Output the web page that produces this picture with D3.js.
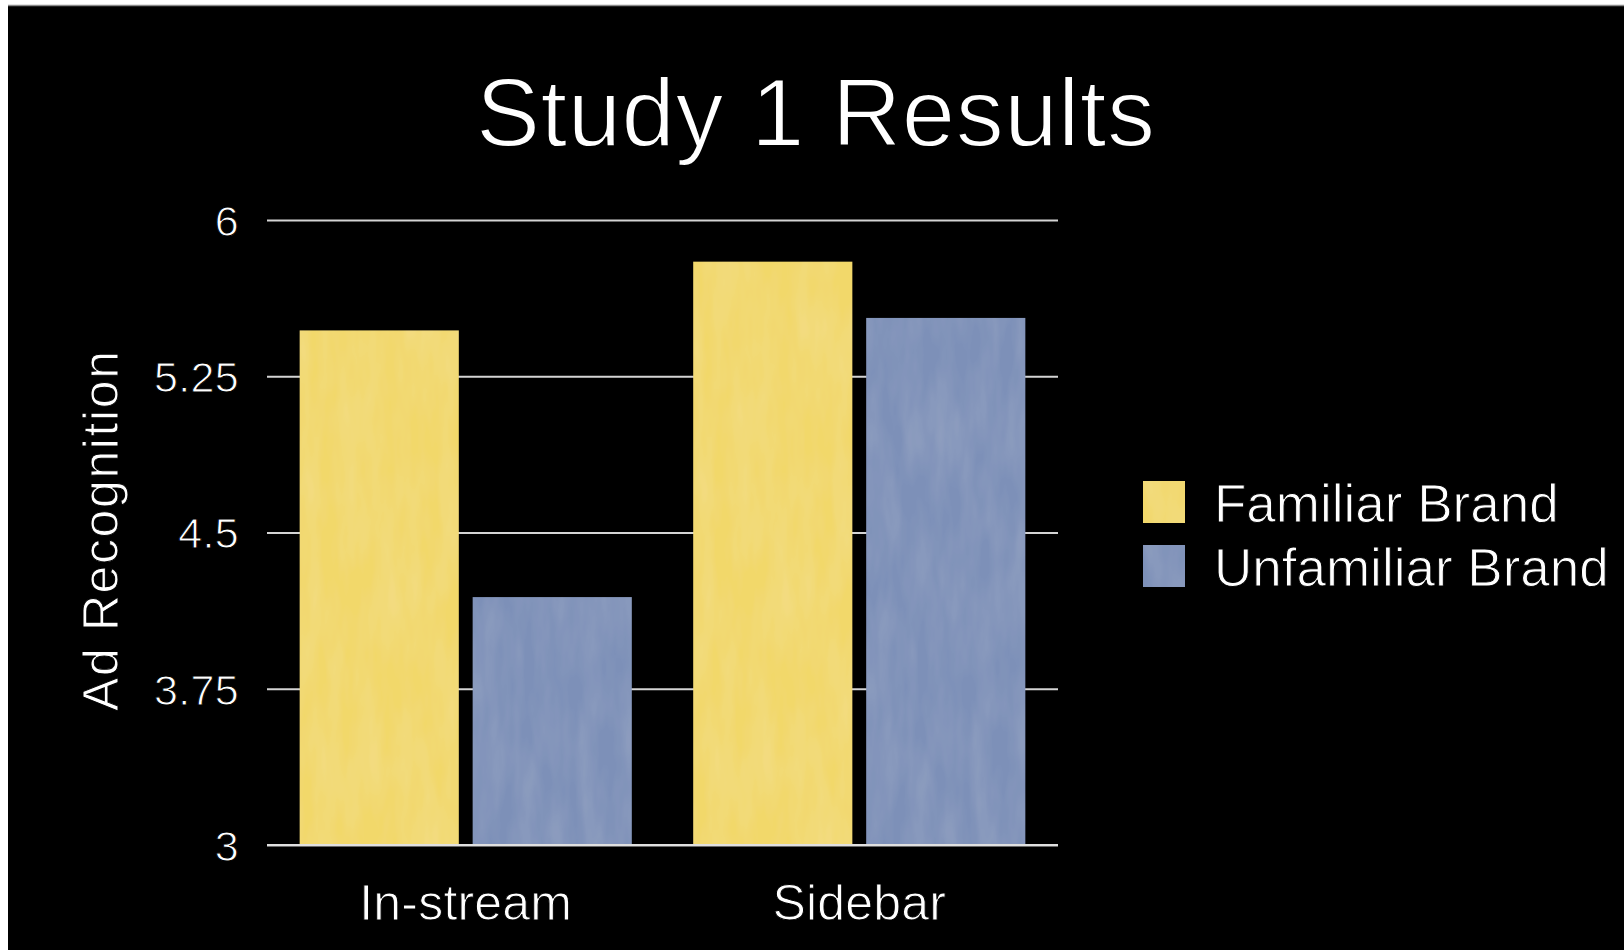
<!DOCTYPE html>
<html>
<head>
<meta charset="utf-8">
<script src="https://cdn.jsdelivr.net/npm/d3@7"></script>
<style>
  body { margin: 0; background: #fff; }
  text { font-family: "Liberation Sans", Arial, sans-serif; fill: #fff; }
</style>
</head>
<body>
<div class="chart"></div>
<script>
// chart data
const categories = ["In-stream", "Sidebar"];
const seriesNames = ["Familiar Brand", "Unfamiliar Brand"];
const familiarValues = [5.47, 5.80];
const unfamiliarValues = [4.19, 5.53];
const tickValues = [3, 3.75, 4.5, 5.25, 6];
const tickLabels = ["3", "3.75", "4.5", "5.25", "6"];

const colors = ["#f2d86b", "#7d90b8"];

const svgWidth = 1624;
const svgHeight = 950;

const margin = {
  top: 220,
  right: 566,
  bottom: 105,
  left: 267
};

const width = svgWidth - margin.left - margin.right;
const height = svgHeight - margin.top - margin.bottom;

const svg = d3.select(".chart")
  .append("svg")
  .attr("width", svgWidth)
  .attr("height", svgHeight);

// faint paper texture like the original slide fills
const defs = svg.append("defs");
const filter = defs.append("filter")
  .attr("id", "paper")
  .attr("x", 0).attr("y", 0).attr("width", 1).attr("height", 1);
filter.append("feTurbulence")
  .attr("type", "fractalNoise")
  .attr("baseFrequency", "0.05 0.012")
  .attr("numOctaves", 3)
  .attr("seed", 7)
  .attr("result", "noise");
filter.append("feColorMatrix")
  .attr("in", "noise")
  .attr("type", "matrix")
  .attr("values", "0 0 0 0 1  0 0 0 0 1  0 0 0 0 1  0 0 0 0.14 -0.04")
  .attr("result", "light");
filter.append("feComposite")
  .attr("in", "light")
  .attr("in2", "SourceGraphic")
  .attr("operator", "in")
  .attr("result", "lightIn");
filter.append("feMerge").selectAll("feMergeNode")
  .data(["SourceGraphic", "lightIn"])
  .enter().append("feMergeNode")
  .attr("in", d => d);

// slide background
svg.append("rect")
  .attr("x", 8)
  .attr("y", 5)
  .attr("width", svgWidth - 8)
  .attr("height", svgHeight - 5)
  .attr("fill", "#000");
svg.append("line")
  .attr("x1", 8).attr("x2", svgWidth)
  .attr("y1", 5.5).attr("y2", 5.5)
  .attr("stroke", "#8a8a8a")
  .attr("stroke-width", 1.5);

// title
svg.append("text")
  .attr("x", 815.5)
  .attr("y", 146)
  .attr("text-anchor", "middle")
  .attr("font-size", 96)
  .attr("textLength", 679)
  .attr("stroke", "#000")
  .attr("stroke-width", 1.8)
  .text("Study 1 Results");

const chartGroup = svg.append("g")
  .attr("transform", `translate(${margin.left}, ${margin.top})`);

// scales
const x0 = d3.scaleBand()
  .domain(categories)
  .range([0, width])
  .paddingInner(0.156)
  .paddingOuter(0.083);

const x1 = d3.scaleBand()
  .domain(seriesNames)
  .range([0, x0.bandwidth()])
  .paddingInner(0.08);

const yScale = d3.scaleLinear()
  .domain([3, 6])
  .range([height, 0]);

// y axis with gridlines
const leftAxis = d3.axisLeft(yScale)
  .tickValues(tickValues)
  .tickFormat((d, i) => tickLabels[i])
  .tickSize(-width)
  .tickPadding(28);

const yAxis = chartGroup.append("g")
  .call(leftAxis);
yAxis.select(".domain").remove();
yAxis.selectAll(".tick line")
  .attr("stroke", "#d4d4d4")
  .attr("stroke-width", 2);
yAxis.selectAll(".tick text")
  .attr("font-size", 43)
  .attr("font-family", "Liberation Sans, Arial, sans-serif")
  .attr("fill", "#fff")
  .attr("dy", "0.36em")
  .attr("stroke", "#000")
  .attr("stroke-width", 1)
  .attr("letter-spacing", 0.3);

// bars
const rows = categories.map((c, i) => ({
  category: c,
  values: [
    { name: seriesNames[0], value: familiarValues[i] },
    { name: seriesNames[1], value: unfamiliarValues[i] }
  ]
}));

const groups = chartGroup.selectAll(".group")
  .data(rows)
  .enter()
  .append("g")
  .attr("class", "group")
  .attr("transform", d => `translate(${x0(d.category)}, 0)`);

groups.selectAll("rect")
  .data(d => d.values)
  .enter()
  .append("rect")
  .attr("x", d => x1(d.name))
  .attr("y", d => yScale(d.value))
  .attr("width", x1.bandwidth())
  .attr("height", d => height - yScale(d.value))
  .attr("fill", (d, i) => colors[i])
  .attr("filter", "url(#paper)");

// baseline over the bars
chartGroup.append("line")
  .attr("x1", 0).attr("x2", width)
  .attr("y1", yScale(3)).attr("y2", yScale(3))
  .attr("stroke", "#e0e0e0")
  .attr("stroke-width", 2);

// category labels
chartGroup.selectAll(".cat-label")
  .data(categories)
  .enter()
  .append("text")
  .attr("class", "cat-label")
  .attr("x", d => x0(d) + x0.bandwidth() / 2)
  .attr("y", 920 - margin.top)
  .attr("text-anchor", "middle")
  .attr("font-size", 50)
  .attr("letter-spacing", 0.2)
  .attr("stroke", "#000")
  .attr("stroke-width", 1)
  .text(d => d);

// y axis title
svg.append("text")
  .attr("transform", "translate(118, 531) rotate(-90)")
  .attr("text-anchor", "middle")
  .attr("font-size", 50)
  .attr("textLength", 360)
  .attr("stroke", "#000")
  .attr("stroke-width", 1)
  .text("Ad Recognition");

// legend
const legend = svg.append("g")
  .attr("transform", "translate(1143, 481)");

const legendItems = legend.selectAll(".legend-item")
  .data(seriesNames)
  .enter()
  .append("g")
  .attr("class", "legend-item")
  .attr("transform", (d, i) => `translate(0, ${i * 64})`);

legendItems.append("rect")
  .attr("width", 42)
  .attr("height", 42)
  .attr("fill", (d, i) => colors[i])
  .attr("filter", "url(#paper)");

legendItems.append("text")
  .attr("x", 71)
  .attr("y", 41)
  .attr("font-size", 53)
  .attr("stroke", "#000")
  .attr("stroke-width", 1)
  .text(d => d);
</script>
</body>
</html>
